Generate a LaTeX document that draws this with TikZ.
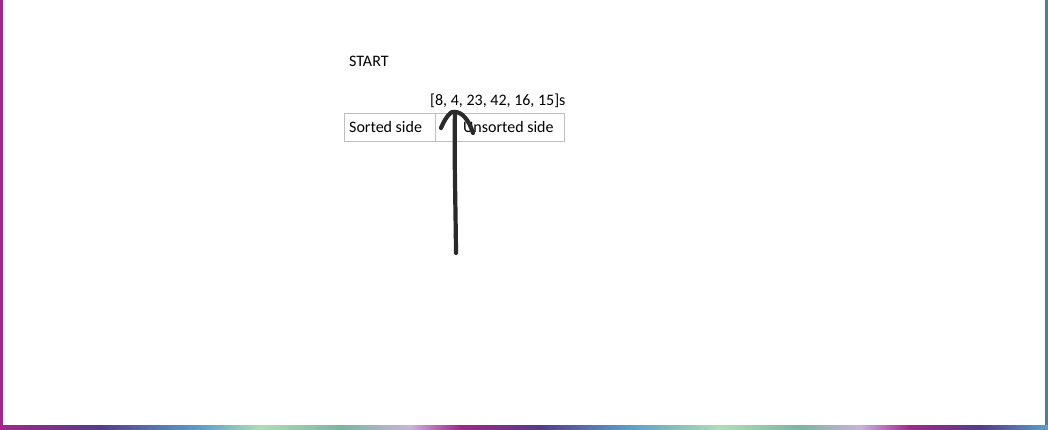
\documentclass[tikz,border=0pt]{standalone}
\usepackage{fontspec}
\setmainfont{Carlito}
\definecolor{bmag}{HTML}{A02888}
\definecolor{bpur}{HTML}{553C88}
\definecolor{bblu}{HTML}{5AA0C8}
\definecolor{bgrn}{HTML}{B4DCB4}
\definecolor{btea}{HTML}{7CB4A0}
\definecolor{blil}{HTML}{C8B4DC}
\definecolor{pencol}{HTML}{2A2A2A}
\begin{document}
\begin{tikzpicture}[x=1pt,y=-1pt,
  lbl/.style={anchor=base west,inner sep=0pt,font=\fontsize{16}{19}\selectfont,text=black},
  cell/.style={draw=black!25,line width=0.8pt},
  pen/.style={draw=pencol,line width=4.2pt,line cap=round,line join=round}]
\useasboundingbox (0,0) rectangle (1048,430);
\fill[white] (0,0) rectangle (1048,430);
% borders
\fill[bmag] (0,0) rectangle (3,425);
\fill[bblu!80!black] (1045,0) rectangle (1047.5,425);
\foreach \xa/\xb/\ca/\cb in {
  0/100/bmag/bpur,
  100/200/bpur/bblu,
  200/260/bblu/bgrn,
  260/340/bgrn/btea,
  340/410/btea/blil,
  410/460/blil/bmag,
  460/540/bmag/bpur,
  540/630/bpur/bblu,
  630/720/bblu/bgrn,
  720/800/bgrn/btea,
  800/860/btea/blil,
  860/910/blil/bmag,
  910/980/bmag/bpur,
  980/1048/bpur/bblu}
  {\shade[left color=\ca,right color=\cb] (\xa,425) rectangle (\xb,430);}
% texts
\node[lbl] (start) at (349,67) {START};
\node[lbl] (arr) at (430,106) {[8, 4, 23, 42, 16, 15]s};
% table
\draw[cell] (344,113) rectangle (564,141);
\draw[cell] (435,113) -- (435,141);
\node[lbl] (sorted) at (349,133) {Sorted side};
\node[lbl] (unsorted) at (463,133) {Unsorted side};
% hand-drawn arrow
\coordinate (tail) at (456,253);
\coordinate (head) at (455,112);
\draw[pen] (tail) .. controls (455.5,200) and (454,150) .. (head);
\draw[pen] (441,128) .. controls (446,116) and (452,110) .. (head)
  .. controls (462,112) and (469,120) .. (473,133);
\end{tikzpicture}
\end{document}
